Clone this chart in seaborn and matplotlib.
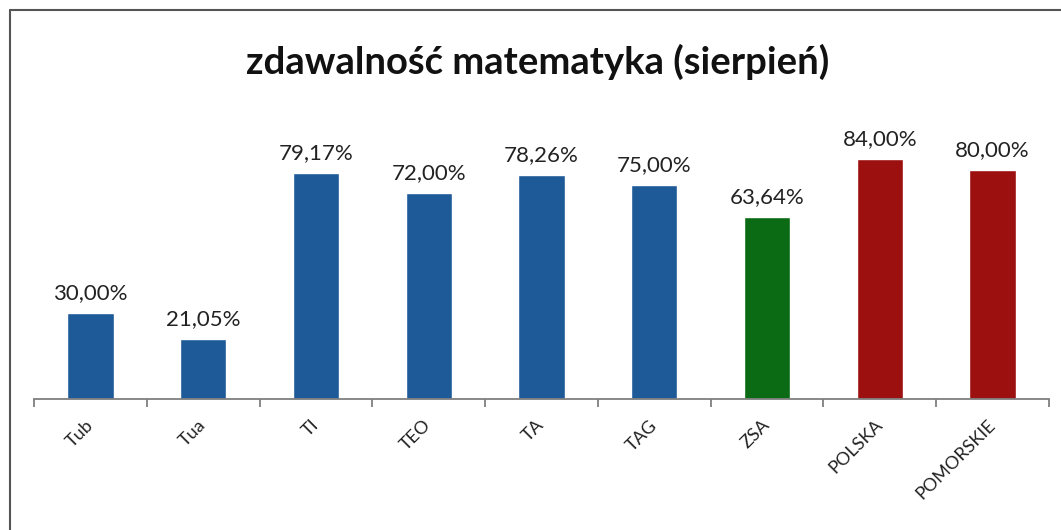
import matplotlib
matplotlib.use("Agg")
import matplotlib.pyplot as plt
from matplotlib.lines import Line2D
import numpy as np
import seaborn as sns

categories = ['Tub', 'Tua', 'TI', 'TEO', 'TA', 'TAG', 'ZSA', 'POLSKA', 'POMORSKIE']
values = [30.00, 21.05, 79.17, 72.00, 78.26, 75.00, 63.64, 84.00, 80.00]
colors = ['#1f5a98', '#1f5a98', '#1f5a98', '#1f5a98', '#1f5a98', '#1f5a98',
          '#0b6a14', '#9c1010', '#9c1010']
title = 'zdawalność matematyka (sierpień)'

sns.set_theme(style='white')
plt.rcParams['font.family'] = ['Lato', 'DejaVu Sans']

fig = plt.figure(figsize=(10.61, 5.30), dpi=100)
ax = fig.add_axes([34 / 1061, 131 / 530, 1015 / 1061, 286 / 530])

sns.barplot(x=categories, y=values, hue=categories, palette=colors,
            legend=False, width=0.41, saturation=1, ax=ax)

ax.set_ylim(0, 100)
ax.set_xlim(-0.5, len(categories) - 0.5)
ax.set_xlabel('')
ax.set_ylabel('')
ax.set_yticks([])
for s in ['top', 'right', 'left']:
    ax.spines[s].set_visible(False)
ax.spines['bottom'].set_color('#7f7f7f')
ax.spines['bottom'].set_linewidth(1.3)

# tick marks between categories, like the spreadsheet
ax.set_xticks(np.arange(-0.5, len(categories)), minor=True)
ax.tick_params(axis='x', which='minor', length=6, width=1.3,
               color='#7f7f7f', direction='out', bottom=True)
ax.tick_params(axis='x', which='major', length=0, pad=17)
ax.set_xticks(range(len(categories)))
ax.set_xticklabels(categories, rotation=45, ha='right', va='center',
                   rotation_mode='anchor', fontsize=13, color='#222222')

for i, v in enumerate(values):
    ax.annotate(f'{v:.2f}%'.replace('.', ','), (i, v), xytext=(0, 7),
                textcoords='offset points', ha='center', va='bottom',
                fontsize=16, color='#222222')

fig.text(538 / 1061, 1 - 62 / 530, title, ha='center', va='center',
         fontsize=27.5, fontweight='bold', color='#111111')

# frame of the chart area
fig.add_artist(Line2D([10 / 1061, 1], [1 - 10 / 530, 1 - 10 / 530],
                      transform=fig.transFigure, color='#555555', lw=1.5))
fig.add_artist(Line2D([10 / 1061, 10 / 1061], [0, 1 - 10 / 530],
                      transform=fig.transFigure, color='#555555', lw=1.5))

fig.savefig('out.png', dpi=100, facecolor='white')
